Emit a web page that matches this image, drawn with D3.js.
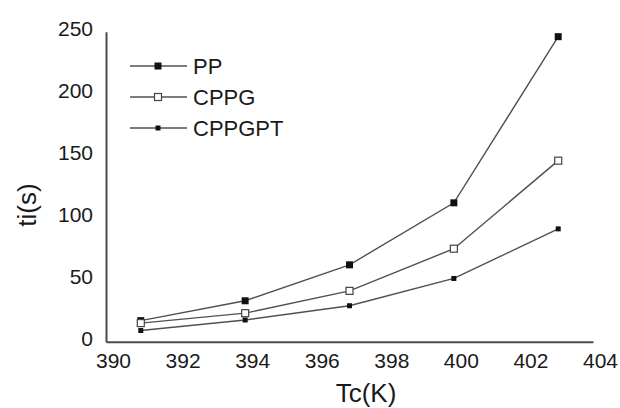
<!DOCTYPE html>
<html>
<head>
<meta charset="utf-8">
<script src="https://cdn.jsdelivr.net/npm/d3@7"></script>
<style>
  html, body { margin: 0; padding: 0; background: #fff; }
  svg { display: block; font-family: "Liberation Sans", Arial, sans-serif; }
</style>
</head>
<body>
<svg id="chart" width="620" height="408"></svg>
<script>
// ---- data ----
const tcValues = [391, 394, 397, 400, 403];
const seriesNames = ["PP", "CPPG", "CPPGPT"];
const ppValues = [17, 33, 62, 112, 246];
const cppgValues = [15, 23, 41, 75, 146];
const cppgptValues = [9, 17.5, 29, 51, 91];
const xTicks = [390, 392, 394, 396, 398, 400, 402, 404];
const yTicks = [0, 50, 100, 150, 200, 250];
const xTitle = "Tc(K)";
const yTitle = "ti(s)";

const series = [
  { name: seriesNames[0], values: ppValues, marker: "bigFilled" },
  { name: seriesNames[1], values: cppgValues, marker: "open" },
  { name: seriesNames[2], values: cppgptValues, marker: "smallFilled" }
];

const svg = d3.select("#chart");
const x = d3.scaleLinear().domain([390, 404]).range([106, 593]);
const y = d3.scaleLinear().domain([0, 250]).range([341.7, 31.7]);

const axisColor = "#4a4a4a";
const lineColor = "#505050";
const textColor = "#1a1a1a";

// axes
const gx = svg.append("g").attr("transform", `translate(0,${y(0)})`)
  .call(d3.axisBottom(x).tickValues(xTicks).tickSize(0).tickPadding(11).tickSizeOuter(0));
gx.select(".domain").attr("stroke", axisColor).attr("stroke-width", 2);
gx.selectAll("text").attr("font-size", 21).attr("fill", textColor).attr("dx", 7)
  .attr("font-family", "Liberation Sans, Arial, sans-serif");

const gy = svg.append("g").attr("transform", `translate(${x(390)},0)`)
  .call(d3.axisLeft(y).tickValues(yTicks).tickSize(0).tickPadding(13).tickSizeOuter(0));
gy.select(".domain").attr("stroke", axisColor).attr("stroke-width", 2);
gy.selectAll("text").attr("font-size", 21).attr("fill", textColor).attr("dy", "0.2em")
  .attr("font-family", "Liberation Sans, Arial, sans-serif");

// titles
svg.append("text").attr("x", 366).attr("y", 402).attr("text-anchor", "middle")
  .attr("font-size", 26).attr("fill", textColor).text(xTitle);
svg.append("text").attr("transform", "translate(36,205) rotate(-90)")
  .attr("text-anchor", "middle").attr("font-size", 26).attr("fill", textColor).text(yTitle);

// markers
function drawMarker(g, type, cx, cy) {
  if (type === "bigFilled") {
    g.append("rect").attr("x", cx - 3.5).attr("y", cy - 3.5).attr("width", 7).attr("height", 7)
      .attr("fill", "#111");
  } else if (type === "open") {
    g.append("rect").attr("x", cx - 3.5).attr("y", cy - 3.5).attr("width", 7).attr("height", 7)
      .attr("fill", "#fff").attr("stroke", "#444").attr("stroke-width", 1.2);
  } else {
    g.append("rect").attr("x", cx - 2.5).attr("y", cy - 2.5).attr("width", 5).attr("height", 5)
      .attr("fill", "#111");
  }
}

const line = d3.line().x((d, i) => x(tcValues[i])).y(d => y(d));

series.forEach(s => {
  svg.append("path").datum(s.values).attr("d", line)
    .attr("fill", "none").attr("stroke", lineColor).attr("stroke-width", 1.4);
});
series.forEach(s => {
  const g = svg.append("g");
  s.values.forEach((v, i) => drawMarker(g, s.marker, x(tcValues[i]), y(v)));
});

// legend
const legendY = [66, 97, 128];
series.forEach((s, i) => {
  const g = svg.append("g");
  g.append("line").attr("x1", 130).attr("x2", 187).attr("y1", legendY[i]).attr("y2", legendY[i])
    .attr("stroke", lineColor).attr("stroke-width", 1.4);
  drawMarker(g, s.marker, 158, legendY[i]);
  g.append("text").attr("x", 193).attr("y", legendY[i]).attr("dy", "0.36em")
    .attr("font-size", 22).attr("fill", textColor).text(s.name);
});
</script>
</body>
</html>
